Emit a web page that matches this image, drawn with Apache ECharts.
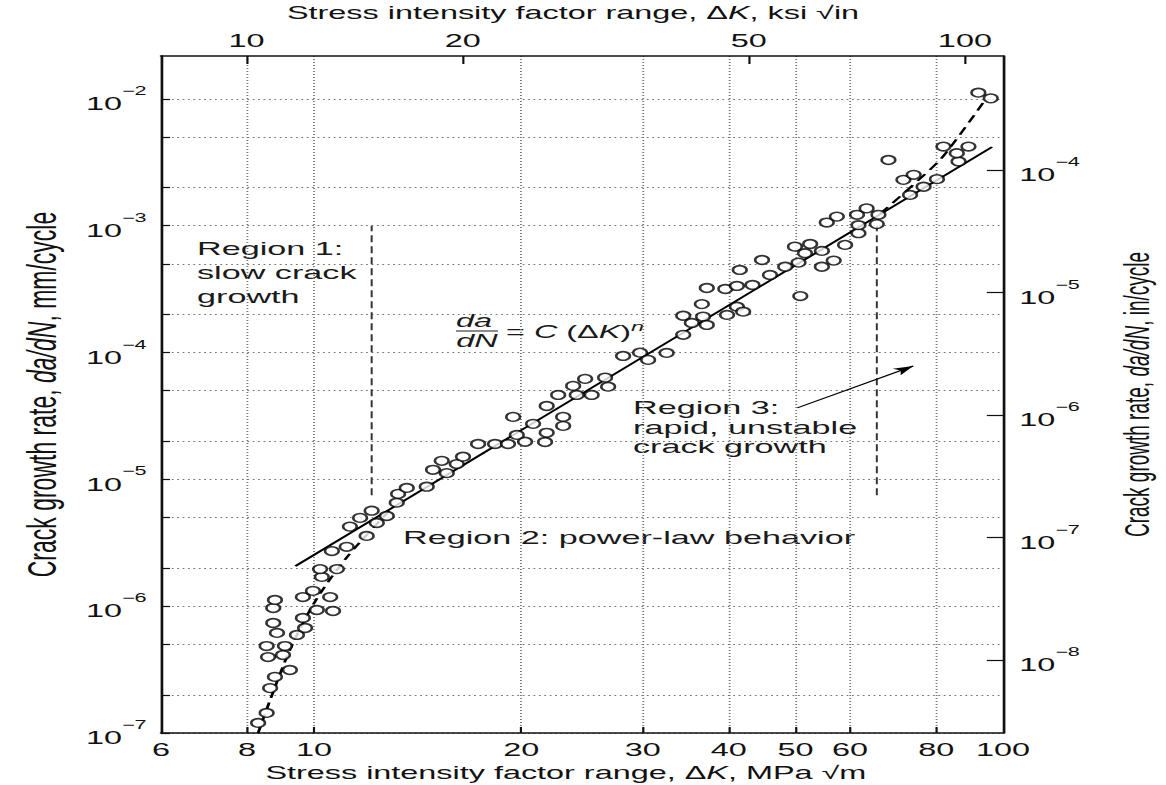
<!DOCTYPE html>
<html lang="en">
<head>
<meta charset="utf-8">
<title>Crack growth rate vs stress intensity factor range</title>
<script src="https://cdn.jsdelivr.net/npm/echarts@6/dist/echarts.min.js"></script>
<style>
    html, body { margin: 0; padding: 0; background: #fff; overflow: hidden; }
    /* the source figure is stretched sideways, so draw it narrow and widen it */
    #chart { width: 648px; height: 785px; transform: scaleX(1.79938); transform-origin: 0 0; }
</style>
</head>
<body>
<div id="chart"></div>
<script type="text/javascript">
    var SX = 1166 / 648;
    var FONT = '"Liberation Sans", Arial, sans-serif';

    // measured points: ΔK in MPa√m, da/dN in mm/cycle
    var deltaK = [8.30, 8.54, 8.64, 8.78, 9.23, 8.58, 9.02, 8.54, 9.08, 8.84,
        9.45, 8.73, 9.71, 9.64, 8.73, 8.78, 10.1, 10.66, 9.64, 9.97,
        10.56, 10.27, 10.21, 10.8, 10.62, 11.16, 11.93, 11.28, 11.67, 12.34,
        12.13, 12.76, 13.19, 13.25, 13.64, 14.58, 14.89, 15.59, 15.33, 16.12,
        16.46, 17.31, 18.32, 19.13, 20.25, 21.65, 19.7, 21.77, 20.8, 19.46,
        23.0, 23.0, 21.77, 22.62, 24.07, 25.3, 23.78, 24.75, 26.46, 26.73,
        28.1, 29.74, 30.55, 32.5, 34.35, 34.35, 36.71, 35.36, 37.17, 36.56,
        37.17, 39.54, 41.1, 39.77, 41.97, 41.1, 41.5, 44.7, 45.9, 50.8,
        43.3, 49.9, 52.5, 51.6, 50.5, 48.3, 54.6, 56.8, 54.6, 59.0,
        61.7, 55.5, 57.4, 61.7, 65.6, 61.4, 65.96, 63.4, 73.3, 76.7,
        71.7, 74.2, 80.2, 68.2, 86.2, 85.7, 81.95, 89.1, 92.1, 96.0];
    var rate = [1.2e-7, 1.44e-7, 2.26e-7, 2.77e-7, 3.14e-7, 3.97e-7, 4.12e-7, 4.85e-7, 4.85e-7, 6.15e-7,
        5.93e-7, 7.37e-7, 6.73e-7, 8.07e-7, 9.68e-7, 1.12e-6, 9.33e-7, 9.16e-7, 1.18e-6, 1.32e-6,
        1.18e-6, 1.70e-6, 1.96e-6, 1.96e-6, 2.72e-6, 2.94e-6, 3.58e-6, 4.24e-6, 4.97e-6, 4.53e-6,
        5.66e-6, 5.14e-6, 6.55e-6, 7.68e-6, 8.56e-6, 8.75e-6, 1.19e-5, 1.12e-5, 1.40e-5, 1.32e-5,
        1.51e-5, 1.90e-5, 1.90e-5, 1.90e-5, 1.98e-5, 1.97e-5, 2.24e-5, 2.33e-5, 2.74e-5, 3.11e-5,
        3.11e-5, 2.64e-5, 3.79e-5, 4.63e-5, 4.63e-5, 4.63e-5, 5.46e-5, 6.2e-5, 6.34e-5, 5.38e-5,
        9.4e-5, 9.98e-5, 8.75e-5, 9.93e-5, 1.38e-4, 1.95e-4, 1.92e-4, 1.71e-4, 1.65e-4, 2.41e-4,
        3.23e-4, 3.17e-4, 2.30e-4, 1.98e-4, 2.10e-4, 3.35e-4, 4.48e-4, 5.37e-4, 4.09e-4, 2.79e-4,
        3.41e-4, 6.84e-4, 7.18e-4, 6.07e-4, 5.12e-4, 4.75e-4, 4.75e-4, 5.31e-4, 6.33e-4, 7.06e-4,
        8.73e-4, 1.06e-3, 1.18e-3, 1.01e-3, 1.03e-3, 1.22e-3, 1.22e-3, 1.37e-3, 1.75e-3, 2.03e-3,
        2.30e-3, 2.52e-3, 2.33e-3, 3.30e-3, 3.21e-3, 3.73e-3, 4.21e-3, 4.21e-3, 1.12e-2, 1.01e-2];

    // power-law fit and the two dashed departures from it
    var fitK = [9.4, 96.4];
    var fitRate = [2.07e-6, 4.18e-3];
    var lowK = [8.3, 8.64, 9.23, 10.03, 11.17, 13.0];
    var lowRate = [1e-7, 1.82e-7, 4.52e-7, 1.08e-6, 2.44e-6, 6.0e-6];
    var highK = [66.3, 81.0, 94.2];
    var highRate = [1.24e-3, 3.3e-3, 9.8e-3];

    // region boundaries and the arrow to region 3
    var boundaryK = [12.13, 65.6];
    var boundaryRate = [7.5e-6, 1.0e-3];
    var arrowK = [50.3, 74.1];
    var arrowRate = [3.66e-5, 7.83e-5];

    // axes
    var mpaLabels = [6, 8, 10, 20, 30, 40, 50, 60, 80, 100];
    var mpaGrid = [8, 10, 20, 30, 40, 50, 60, 80];
    var ksiLabels = [10, 20, 50, 100];
    var mmLabels = [1e-7, 1e-6, 1e-5, 1e-4, 1e-3, 1e-2];
    var mmGrid = [1e-7, 2e-7, 5e-7, 1e-6, 2e-6, 5e-6, 1e-5, 2e-5, 5e-5, 1e-4, 2e-4, 5e-4,
        1e-3, 2e-3, 5e-3, 1e-2];
    var inLabels = [1e-8, 1e-7, 1e-6, 1e-5, 1e-4];

    function pairs(xs, ys) {
        return xs.map(function (x, i) { return [x, ys[i]]; });
    }
    function powLabel(v) {
        var e = Math.round(Math.log10(v));
        return '{b|10}{s|' + (e < 0 ? '\u2212' + (-e) : e) + '}';
    }
    var powRich = {
        b: {fontFamily: FONT, fontSize: 18, color: '#111', lineHeight: 28, verticalAlign: 'bottom'},
        s: {fontFamily: FONT, fontSize: 12, color: '#111', lineHeight: 14, verticalAlign: 'top'}
    };
    function titleStyle(size) {
        return {
            fontFamily: FONT, fontSize: size, color: '#111',
            rich: {i: {fontFamily: FONT, fontSize: size, color: '#111', fontStyle: 'italic'}}
        };
    }
    var dotted = {show: true, lineStyle: {type: [1, 2], color: '#777', width: 1}};
    var axisLine = {show: true, onZero: false, lineStyle: {color: '#111', width: 1.5}};

    var myChart = echarts.init(document.getElementById('chart'), null, {renderer: 'svg'});

    var option = {
        animation: false,
        backgroundColor: '#fff',
        grid: {left: 161 / SX, right: 163 / SX, top: 56, bottom: 52, outerBoundsMode: 'none', containLabel: false},
        xAxis: [
            {
                type: 'log', logBase: 10, min: 6, max: 100, position: 'bottom',
                name: 'Stress intensity factor range, \u0394{i|K}, MPa \u221Am',
                nameLocation: 'middle', nameGap: 28,
                nameTextStyle: Object.assign({padding: [0, 18, 0, 0]}, titleStyle(18)),
                axisLine: axisLine,
                axisTick: {show: true, inside: true, length: 6, customValues: mpaGrid,
                    lineStyle: {color: '#111', width: 1.2}},
                minorTick: {show: false},
                axisLabel: {customValues: mpaLabels, margin: 8, showMinLabel: true, showMaxLabel: true,
                    fontFamily: FONT, fontSize: 18, color: '#111'},
                splitLine: dotted
            },
            {
                type: 'log', logBase: 10, min: 7.6, max: 113, position: 'top',
                name: 'Stress intensity factor range, \u0394{i|K}, ksi \u221Ain',
                nameLocation: 'middle', nameGap: 34,
                nameTextStyle: Object.assign({padding: [0, 10, 0, 0]}, titleStyle(18)),
                axisLine: axisLine,
                axisTick: {show: true, inside: true, length: 8, customValues: ksiLabels,
                    lineStyle: {color: '#111', width: 1.2}},
                axisLabel: {customValues: ksiLabels, margin: 6, fontFamily: FONT, fontSize: 18, color: '#111'},
                splitLine: {show: false}
            }
        ],
        yAxis: [
            {
                type: 'log', logBase: 10, min: 1e-7, max: 0.0218, position: 'left',
                name: 'Crack growth rate, {i|da/dN}, mm/cycle',
                nameLocation: 'middle', nameRotate: 90, nameGap: 55,
                nameTextStyle: titleStyle(23),
                axisLine: axisLine,
                axisTick: {show: true, inside: true, length: 5, customValues: mmGrid,
                    lineStyle: {color: '#111', width: 1.2}},
                axisLabel: {customValues: mmLabels, margin: 8, formatter: powLabel, rich: powRich},
                splitLine: dotted
            },
            {
                type: 'log', logBase: 10, min: 2.535e-9, max: 8.51e-4, position: 'right',
                name: 'Crack growth rate, {i|da/dN}, in/cycle',
                nameLocation: 'middle', nameRotate: 90, nameGap: 65,
                nameTextStyle: titleStyle(19),
                axisLine: axisLine,
                axisTick: {show: true, inside: true, length: 9, customValues: inLabels,
                    lineStyle: {color: '#111', width: 1.2}},
                axisLabel: {customValues: inLabels, margin: 9, formatter: powLabel, rich: powRich},
                splitLine: {show: false}
            }
        ],
        series: [
            {
                type: 'line', data: pairs(fitK, fitRate), symbol: 'none', silent: true, z: 2,
                lineStyle: {color: '#000', width: 1.6}
            },
            {
                type: 'line', data: pairs(lowK, lowRate), symbol: 'none', smooth: 0.3, silent: true, z: 2,
                lineStyle: {color: '#000', width: 1.6, type: [7, 5]}
            },
            {
                type: 'line', data: pairs(highK, highRate), symbol: 'none', smooth: 0.2, silent: true, z: 2,
                lineStyle: {color: '#000', width: 1.6, type: [8, 5]}
            },
            {
                type: 'line', data: [[boundaryK[0], boundaryRate[0]], [boundaryK[0], boundaryRate[1]]],
                symbol: 'none', silent: true, z: 2,
                lineStyle: {color: '#333', width: 1.1, type: [7, 4]}
            },
            {
                type: 'line', data: [[boundaryK[1], boundaryRate[0]], [boundaryK[1], boundaryRate[1]]],
                symbol: 'none', silent: true, z: 2,
                lineStyle: {color: '#333', width: 1.1, type: [7, 4]}
            },
            {
                type: 'scatter', data: pairs(deltaK, rate), symbol: 'circle', symbolSize: [7.6, 8.6], z: 5,
                itemStyle: {color: '#fff', borderColor: '#000', borderWidth: 1.5}
            },
            {
                type: 'scatter', data: [], silent: true,
                markLine: {
                    silent: true, symbol: ['none', 'arrow'], symbolSize: [6, 11],
                    label: {show: false},
                    lineStyle: {color: '#000', width: 1.1, type: 'solid'},
                    data: [[{coord: [arrowK[0], arrowRate[0]]}, {coord: [arrowK[1], arrowRate[1]]}]]
                }
            }
        ],
        graphic: [
            {
                type: 'text', x: 197 / SX, y: 236,
                style: {text: 'Region 1:\nslow crack\ngrowth', fontFamily: FONT, fontSize: 19, lineHeight: 24, fill: '#1a1a1a'}
            },
            {
                type: 'text', x: 633 / SX, y: 398,
                style: {text: 'Region 3:\nrapid, unstable\ncrack growth', fontFamily: FONT, fontSize: 19, lineHeight: 19.5, fill: '#1a1a1a'}
            },
            {
                type: 'text', x: 403 / SX, y: 527,
                style: {text: 'Region 2: power-law behavior', fontFamily: FONT, fontSize: 19, lineHeight: 20, fill: '#1a1a1a'}
            },
            {
                type: 'text', x: 474 / SX, y: 321,
                style: {text: 'da', align: 'center', verticalAlign: 'middle', fontFamily: FONT, fontSize: 18, fontStyle: 'italic', fill: '#1a1a1a'}
            },
            {
                type: 'text', x: 477 / SX, y: 341,
                style: {text: 'dN', align: 'center', verticalAlign: 'middle', fontFamily: FONT, fontSize: 18, fontStyle: 'italic', fill: '#1a1a1a'}
            },
            {
                type: 'line', shape: {x1: 456 / SX, y1: 331, x2: 498 / SX, y2: 331},
                style: {stroke: '#1a1a1a', lineWidth: 1.2}
            },
            {
                type: 'text', x: 506 / SX, y: 332,
                style: {
                    text: '= {i|C} (\u0394{i|K}){s|n}', verticalAlign: 'middle',
                    fontFamily: FONT, fontSize: 18, lineHeight: 24, fill: '#1a1a1a',
                    rich: {
                        i: {fontFamily: FONT, fontSize: 18, fontStyle: 'italic', fill: '#1a1a1a', lineHeight: 24},
                        s: {fontFamily: FONT, fontSize: 13, fontStyle: 'italic', fill: '#1a1a1a', lineHeight: 12, verticalAlign: 'top'}
                    }
                }
            }
        ]
    };

    myChart.setOption(option);
</script>
</body>
</html>
